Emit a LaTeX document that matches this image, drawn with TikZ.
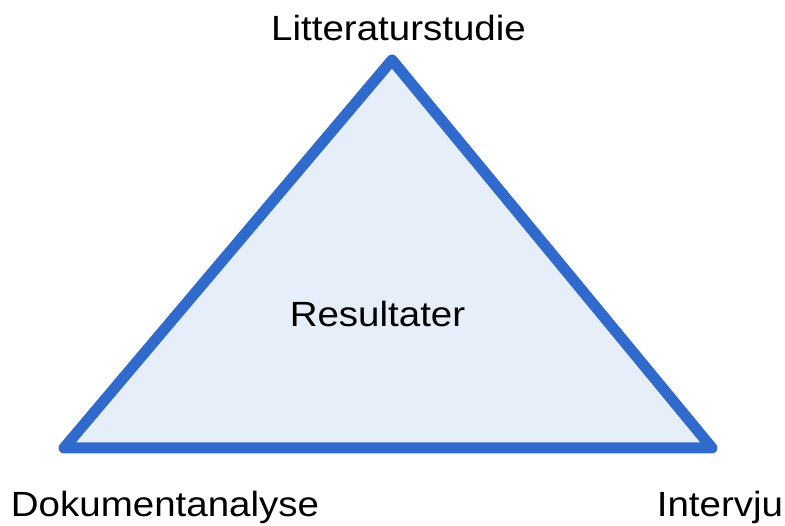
\documentclass[tikz,border=0pt]{standalone}
\usepackage{fontspec}
\setmainfont{Liberation Sans}[FakeStretch=1.1]
\definecolor{edgeblue}{RGB}{48,106,204}
\definecolor{facefill}{RGB}{230,238,249}
\begin{document}
\begin{tikzpicture}[x=1pt,y=-1pt,
  label text/.style={anchor=base,inner sep=0pt,font=\fontsize{35}{40}\selectfont,text=black},
  face/.style={draw=edgeblue,fill=facefill,line width=11pt,line join=round}]
\useasboundingbox (0,0) rectangle (785,526);
% corners of the triangle
\coordinate (top) at (392,60);
\coordinate (left) at (64,448);
\coordinate (right) at (712,448);
\draw[face] (top) -- (right) -- (left) -- cycle;
% labels
\node[label text] (lit) at (398.5,41) {Litteraturstudie};
\node[label text] (res) at (377.5,327) {Resultater};
\node[label text] (dok) at (165,517) {Dokumentanalyse};
\node[label text] (int) at (720,517) {Intervju};
\end{tikzpicture}
\end{document}
